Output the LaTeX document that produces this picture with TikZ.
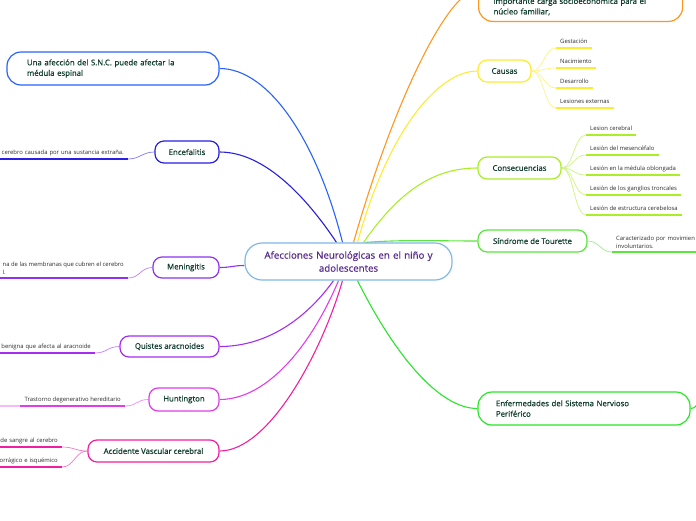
\documentclass[tikz,border=0pt]{standalone}
\usepackage{fontspec}
\setmainfont{Open Sans}
\newfontfamily\fontnoeud{Open Sans}[FakeBold=0.6]
\usetikzlibrary{backgrounds}
\definecolor{bleuCentre}{RGB}{125,185,230}
\definecolor{violetTexte}{RGB}{90,45,140}
\definecolor{texteVert}{RGB}{15,60,45}
\definecolor{gris}{RGB}{45,45,45}
\definecolor{bleuSNC}{RGB}{41,98,255}
\definecolor{bleuFonce}{RGB}{40,30,230}
\definecolor{violetMen}{RGB}{140,50,240}
\definecolor{violetQui}{RGB}{165,45,240}
\definecolor{magenta}{RGB}{225,60,235}
\definecolor{rose}{RGB}{240,30,160}
\definecolor{orange}{RGB}{255,150,30}
\definecolor{jaune}{RGB}{255,235,50}
\definecolor{lime}{RGB}{170,238,40}
\definecolor{vertTou}{RGB}{90,230,60}
\definecolor{vertEnf}{RGB}{40,230,40}

\begin{document}
\begin{tikzpicture}[x=1pt,y=-1pt,
  centre/.style={rectangle,rounded corners=17pt,minimum width=207pt,minimum height=37pt,
                 text width=195pt,align=center,draw=bleuCentre,line width=1.2pt,fill=white,
                 text=violetTexte,font=\fontnoeud\fontsize{9.7}{13}\selectfont},
  branche/.style={rectangle,rounded corners=9pt,draw=#1,line width=1.2pt,fill=white,
                  text=texteVert,font=\fontnoeud\fontsize{7.8}{10.5}\selectfont,inner sep=2pt},
  feuille/.style={inner xsep=4pt,inner ysep=3.5pt,text depth=1pt,text=gris,
                  font=\fontsize{5.9}{8}\selectfont,
                  append after command={(\tikzlastnode.south west) edge[line width=1.8pt,draw=#1]
                                        (\tikzlastnode.south east)}},
  lien/.style={line width=1.1pt,draw=#1},
  sous/.style={line width=0.7pt,draw=#1!60}]

  \useasboundingbox (0,0) rectangle (696,520);
  \clip (0,0) rectangle (696,520);

  \node[centre] (AN) at (348.5,261.5) {Afecciones Neurológicas en el niño y\\adolescentes};

  % cote gauche
  \node[branche=bleuSNC,rounded corners=14pt,minimum width=212pt,minimum height=33pt,
        inner xsep=20pt,text width=172pt,align=left] (SNC) at (113,68.5)
    {Una afección del S.N.C. puede afectar la\\médula espinal};
  \node[branche=bleuFonce,minimum width=64pt,minimum height=22pt] (ENC) at (187,152) {Encefalitis};
  \node[branche=violetMen,minimum width=66pt,minimum height=21pt] (MEN) at (186,267.5) {Meningitis};
  \node[branche=violetQui,minimum width=99pt,minimum height=21pt] (QUI) at (169.5,346.5) {Quistes aracnoides};
  \node[branche=magenta,minimum width=70pt,minimum height=23pt] (HUN) at (184,399.5) {Huntington};
  \node[branche=rose,minimum width=131pt,minimum height=22pt] (ACV) at (153.5,451) {Accidente Vascular cerebral};

  \node[feuille=bleuFonce,anchor=south east,text width=150pt,align=right] (ENC1) at (128,159)
    {cerebro causada por una sustancia extraña.};
  \node[feuille=violetMen,anchor=south east,align=left,text depth={}] (MEN1) at (128,278)
    {na de las membranas que cubren el cerebro\\l.};
  \node[feuille=violetQui,anchor=south east,text width=110pt,align=right] (QUI1) at (95,353)
    {benigna que afecta al aracnoide};
  \node[feuille=magenta,anchor=south east] (HUN1) at (125,406) {Trastorno degenerativo hereditario};
  \node[feuille=rose,anchor=south east,text width=80pt,align=right] (ACV1) at (62,447) {de sangre al cerebro};
  \node[feuille=rose,anchor=south east,text width=80pt,align=right] (ACV2) at (62,467) {orrágico e isquémico};

  % cote droit
  \node[branche=orange,rounded corners=14pt,anchor=south west,minimum width=204pt,
        inner xsep=15pt,inner ysep=6pt,text width=174pt,align=left] (ORA) at (478,22)
    {\rule{0pt}{40pt}importante carga socioeconómica para el\\núcleo familiar,};
  \node[branche=jaune,minimum width=53pt,minimum height=22pt] (CAU) at (504.5,71) {Causas};
  \node[branche=lime,minimum width=83pt,minimum height=22pt] (CON) at (519.5,168) {Consecuencias};
  \node[branche=vertTou,minimum width=109pt,minimum height=22pt] (TOU) at (532.5,241) {Síndrome de Tourette};
  \node[branche=vertEnf,rounded corners=14pt,minimum width=212pt,minimum height=33pt,
        inner xsep=18pt,text width=176pt,align=left] (ENF) at (584,408.5)
    {Enfermedades del Sistema Nervioso\\Periférico};
  \coordinate (ENFsuite) at (700,400);

  \node[feuille=jaune,anchor=south west] (CAU1) at (556,48) {Gestación};
  \node[feuille=jaune,anchor=south west] (CAU2) at (556,68) {Nacimiento};
  \node[feuille=jaune,anchor=south west] (CAU3) at (556,88) {Desarrollo};
  \node[feuille=jaune,anchor=south west] (CAU4) at (556,108) {Lesiones externas};

  \node[feuille=lime,anchor=south west] (CON1) at (586,135) {Lesion cerebral};
  \node[feuille=lime,anchor=south west] (CON2) at (586,155) {Lesión del mesencéfalo};
  \node[feuille=lime,anchor=south west] (CON3) at (586,175) {Lesión en la médula oblongada};
  \node[feuille=lime,anchor=south west] (CON4) at (586,195) {Lesión de los ganglios troncales};
  \node[feuille=lime,anchor=south west] (CON5) at (586,215) {Lesión de estructura cerebelosa};

  \node[feuille=vertTou,anchor=south west,text width=100pt,align=left,text depth={}] (TOU1) at (612,252)
    {Caracterizado por movimien\\involuntarios.};

  \begin{scope}[on background layer]
    \draw[lien=bleuSNC] (SNC.east) .. controls +(50,0) and +(-25,-100) .. ([xshift=-6pt]AN.north);
    \draw[lien=bleuFonce] (ENC.east) .. controls +(45,0) and +(-30,-45) .. ([xshift=-12pt]AN.north);
    \draw[lien=violetMen] (MEN.east) .. controls +(12,0) and +(-12,0) .. ([yshift=-4pt]AN.west);
    \draw[lien=violetQui] (QUI.east) .. controls +(50,0) and +(-25,35) .. ([xshift=-15pt]AN.south);
    \draw[lien=magenta] (HUN.east) .. controls +(50,0) and +(-25,60) .. ([xshift=-10pt]AN.south);
    \draw[lien=rose] (ACV.east) .. controls +(50,0) and +(-20,70) .. ([xshift=-6pt]AN.south);

    \draw[lien=orange] ([xshift=5pt]AN.north) .. controls +(40,-140) and +(-30,0) .. (ORA.west);
    \draw[lien=jaune] ([xshift=9pt]AN.north) .. controls +(30,-110) and +(-40,0) .. (CAU.west);
    \draw[lien=lime] ([xshift=15pt]AN.north) .. controls +(35,-50) and +(-45,0) .. (CON.west);
    \draw[lien=vertTou] ([xshift=17pt]AN.north) .. controls +(40,-3) and +(-40,0) .. (TOU.west);
    \draw[lien=vertEnf] ([xshift=9pt]AN.south) .. controls +(35,70) and +(-40,0) .. (ENF.west);
    \draw[lien=vertEnf] (ENF.east) .. controls +(6,0) and +(-4,4) .. (ENFsuite);

    \draw[sous=bleuFonce] (ENC1.south east) .. controls +(12,0) and +(-12,0) .. (ENC.west);
    \draw[sous=violetMen] (MEN1.south east) .. controls +(12,0) and +(-12,0) .. (MEN.west);
    \draw[sous=violetQui] (QUI1.south east) .. controls +(12,0) and +(-12,0) .. (QUI.west);
    \draw[sous=magenta] (HUN1.south east) .. controls +(12,0) and +(-12,0) .. (HUN.west);
    \draw[line width=1.8pt,magenta!35] (HUN1.south west) -- (0,406);
    \draw[sous=rose] (ACV1.south east) .. controls +(12,0) and +(-12,0) .. (ACV.west);
    \draw[sous=rose] (ACV2.south east) .. controls +(12,0) and +(-12,0) .. (ACV.west);

    \draw[sous=jaune] (CAU.east) .. controls +(12,0) and +(-12,0) .. (CAU1.south west);
    \draw[sous=jaune] (CAU.east) .. controls +(12,0) and +(-12,0) .. (CAU2.south west);
    \draw[sous=jaune] (CAU.east) .. controls +(12,0) and +(-12,0) .. (CAU3.south west);
    \draw[sous=jaune] (CAU.east) .. controls +(12,0) and +(-12,0) .. (CAU4.south west);
    \draw[sous=lime] (CON.east) .. controls +(12,0) and +(-12,0) .. (CON1.south west);
    \draw[sous=lime] (CON.east) .. controls +(12,0) and +(-12,0) .. (CON2.south west);
    \draw[sous=lime] (CON.east) .. controls +(12,0) and +(-12,0) .. (CON3.south west);
    \draw[sous=lime] (CON.east) .. controls +(12,0) and +(-12,0) .. (CON4.south west);
    \draw[sous=lime] (CON.east) .. controls +(12,0) and +(-12,0) .. (CON5.south west);
    \draw[sous=vertTou] (TOU.east) .. controls +(12,0) and +(-12,0) .. (TOU1.south west);
  \end{scope}
\end{tikzpicture}
\end{document}
